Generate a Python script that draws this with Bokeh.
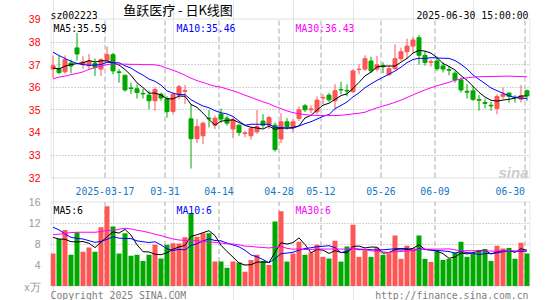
import numpy as np
import pandas as pd
from bokeh.plotting import figure
from bokeh.models import Range1d, FixedTicker, Label, ColumnDataSource, BoxAnnotation
from bokeh.core.properties import value
from bokeh.layouts import column
from bokeh.embed import file_html
from bokeh.resources import INLINE

# ---------------- data ----------------
dates = (
    ["2025-03-%02d" % d for d in [4, 5, 6, 7, 10, 11, 12, 13, 14, 17, 18, 19, 20, 21, 24, 25, 26, 27, 28, 31]]
    + ["2025-04-%02d" % d for d in [1, 2, 3, 7, 8, 9, 10, 11, 14, 15, 16, 17, 18, 21, 22, 23, 24, 25, 28, 29, 30]]
    + ["2025-05-%02d" % d for d in [6, 7, 8, 9, 12, 13, 14, 15, 16, 19, 20, 21, 22, 23, 26, 27, 28, 29, 30]]
    + ["2025-06-%02d" % d for d in [3, 4, 5, 6, 9, 10, 11, 12, 13, 16, 17, 18, 19, 20, 23, 24, 25, 26, 27, 30]]
)

opens = [36.80, 36.82, 36.68, 37.07, 37.74, 37.00, 36.95, 37.05, 36.80, 37.18,
         37.44, 36.68, 36.53, 35.97, 35.93, 35.73, 35.65, 35.40, 35.69, 35.50,
         34.93, 35.65, 35.82, 34.60, 33.72, 33.85, 34.63, 34.32, 34.81, 34.63,
         34.15, 34.32, 33.95, 33.85, 34.03, 34.50, 34.32, 34.32, 33.71, 34.47,
         34.26, 34.62, 35.18, 35.00, 34.91, 35.52, 35.65, 35.40, 35.90, 35.86,
         35.80, 36.78, 36.80, 37.16, 36.80, 36.95, 36.57, 36.82, 37.26, 37.57,
         37.82, 38.19, 37.41, 37.10, 37.16, 36.94, 36.78, 36.62, 36.32, 35.82,
         35.84, 35.46, 35.32, 35.20, 35.06, 35.60, 35.74, 35.56, 35.47, 35.84]
closes = [36.95, 36.65, 37.22, 36.94, 37.47, 37.12, 37.15, 36.88, 37.22, 37.44,
          36.72, 36.65, 35.88, 35.94, 35.76, 35.70, 35.40, 35.90, 35.52, 34.92,
          35.68, 36.02, 35.85, 33.72, 34.26, 34.41, 34.60, 34.63, 34.59, 34.41,
          34.56, 34.00, 33.98, 34.18, 34.26, 34.32, 34.66, 33.24, 34.47, 34.26,
          34.47, 35.00, 35.00, 35.04, 35.43, 35.55, 35.44, 35.84, 35.88, 35.83,
          36.72, 36.80, 37.26, 36.72, 36.99, 36.90, 36.82, 37.26, 37.57, 37.82,
          38.09, 37.41, 37.09, 37.13, 36.82, 36.80, 36.75, 36.32, 35.88, 35.78,
          35.46, 35.42, 35.28, 35.17, 35.59, 35.69, 35.60, 35.54, 35.62, 35.62]
highs = [37.40, 37.38, 37.41, 37.22, 38.40, 37.37, 37.47, 37.27, 37.27, 37.80,
         37.52, 36.80, 36.55, 36.20, 36.12, 35.93, 35.85, 36.00, 35.76, 35.60,
         35.76, 36.10, 36.10, 35.25, 34.59, 34.47, 35.00, 34.74, 35.06, 34.74,
         34.66, 34.35, 34.07, 34.26, 35.00, 34.81, 34.74, 34.44, 34.85, 34.63,
         34.60, 35.15, 35.25, 35.20, 35.59, 35.69, 35.74, 36.13, 36.24, 36.13,
         36.80, 37.01, 37.41, 37.35, 37.38, 37.10, 36.95, 37.90, 37.75, 38.15,
         38.24, 38.31, 37.60, 37.24, 37.35, 37.10, 36.94, 36.72, 36.43, 36.13,
         36.06, 35.65, 35.50, 35.35, 35.69, 35.99, 35.76, 35.65, 36.09, 35.90]
lows = [36.40, 36.57, 36.60, 36.62, 37.18, 36.80, 36.78, 36.50, 36.50, 37.15,
        36.57, 36.20, 35.80, 35.70, 35.50, 35.50, 35.03, 34.96, 35.40, 34.65,
        34.80, 35.47, 35.25, 32.40, 33.53, 33.48, 34.22, 34.15, 34.41, 34.30,
        33.75, 33.85, 33.78, 33.68, 33.93, 34.18, 34.15, 33.15, 33.53, 34.12,
        34.00, 34.51, 34.90, 34.85, 34.81, 35.25, 35.35, 35.06, 35.69, 35.59,
        35.75, 36.57, 36.72, 36.65, 36.70, 36.62, 36.50, 36.78, 37.16, 37.25,
        37.53, 37.00, 36.95, 36.91, 36.72, 36.65, 36.53, 36.20, 35.76, 35.50,
        35.40, 34.96, 35.06, 34.96, 34.80, 35.47, 35.32, 35.32, 35.32, 35.40]
volumes = [6.19, 8.95, 10.69, 5.94, 10.24, 6.51, 7.35, 6.51, 11.20, 15.18,
           11.33, 6.19, 10.04, 5.74, 5.94, 4.78, 5.94, 7.86, 5.23, 7.86,
           8.12, 8.10, 9.30, 13.90, 9.40, 10.04, 10.04, 4.65, 4.65, 3.50,
           4.65, 4.46, 2.73, 4.97, 5.94, 4.78, 4.01, 12.29, 14.22, 4.65,
           6.19, 8.44, 5.94, 6.39, 7.86, 5.55, 5.23, 8.63, 4.65, 7.54,
           11.65, 5.55, 6.84, 5.55, 7.35, 5.94, 6.26, 9.60, 5.17, 7.67,
           7.22, 9.60, 5.17, 4.59, 6.51, 4.97, 5.17, 6.39, 8.44, 5.55,
           6.19, 6.84, 7.03, 4.78, 7.67, 7.16, 7.22, 5.17, 8.25, 6.19]

# moving-average values before a full window is available
ma5_head = [36.85, 36.81, 36.93, 37.00]
ma10_head = [37.55, 37.40, 37.27, 37.15, 37.05, 37.00, 36.97, 36.98, 37.00]
ma30_head = [36.37, 36.45, 36.49, 36.56, 36.61, 36.68, 36.79, 36.86, 36.93, 37.00,
             37.03, 37.02, 37.02, 37.01, 37.01, 37.00, 37.00, 36.99, 36.94, 36.84,
             36.75, 36.65, 36.53, 36.40, 36.29, 36.21, 36.12, 36.04, 36.00]
vma5_head = [9.27, 8.95, 8.90, 8.44]
vma10_head = [11.20, 10.70, 9.90, 9.27, 9.08, 8.95, 8.63, 8.31, 8.50]
vma30_head = [9.79, 9.85, 10.04, 10.17, 10.24, 10.24, 10.24, 10.24, 10.37, 10.56,
              10.56, 10.82, 11.00, 10.88, 10.62, 10.43, 10.17, 9.85, 9.60, 9.27,
              8.95, 8.76, 8.70, 8.65, 8.60, 8.50, 8.40, 8.30, 8.20]

tick_dates = ["2025-03-17", "2025-03-31", "2025-04-14", "2025-04-28",
              "2025-05-12", "2025-05-26", "2025-06-09", "2025-06-30"]
tick_labels = ["2025-03-17", "03-31", "04-14", "04-28", "05-12", "05-26", "06-09", "06-30"]
price_ticks = [32, 33, 34, 35, 36, 37, 38, 39]
vol_ticks = [4, 8, 12, 16]

title_code = "sz002223"
title_name = "鱼跃医疗 - 日K线图"
title_time = "2025-06-30 15:00:00"
price_legend = ["MA5:35.59", "MA10:35.46", "MA30:36.43"]
vol_legend = ["MA5:6", "MA10:6", "MA30:6"]
vol_unit = "x万"
footer_left = "Copyright 2025 SINA.COM"
footer_right = "http://finance.sina.com.cn"

# ---------------- styling / layout (page pixels) ----------------
RED = "#ff5555"
GREEN = "#00a800"
MA_COLORS = ["#000000", "#0000ff", "#ff00ff"]
MONO = "DejaVu Sans Mono"
MONO_SIZE = "9.8px"
GRID_COLOR = "#aaaaaa"
FRAME_COLOR = "#999999"
XLAB_COLOR = "#1478c8"

PAGE_W, P1_H, P2_H = 545, 196, 104
FRAME_L, FRAME_R = 50, 530
X0 = -2.5 / 6                       # bar i centred at page px 52.5 + 6 i


def xd(px):                          # page px (x) -> bar index units
    return X0 + (px - FRAME_L) / 6


def py(px):                          # page px (y) -> price
    return 38 + (41.5 - px) / 22.6


def vy(px):                          # page px (y, page) -> volume
    return (285.5 - px) / 5.25


def moving(vals, n, head):
    s = pd.Series(vals).rolling(n).mean().tolist()
    return list(head) + s[n - 1:]


n = len(dates)
x = np.arange(n)
o = np.array(opens); c = np.array(closes)
colors = [RED if cc >= oo else GREEN for oo, cc in zip(opens, closes)]
src = ColumnDataSource(dict(
    x=x, open=o, close=c, high=highs, low=lows,
    top=np.maximum(o, c), bottom=np.minimum(o, c), color=colors,
    vol=volumes,
    ma5=moving(closes, 5, ma5_head), ma10=moving(closes, 10, ma10_head),
    ma30=moving(closes, 30, ma30_head),
    vma5=moving(volumes, 5, vma5_head), vma10=moving(volumes, 10, vma10_head),
    vma30=moving(volumes, 30, vma30_head),
))

grid_x = [dates.index(d) - 1 / 3 for d in tick_dates]
x_range = Range1d(xd(FRAME_L), xd(FRAME_R))


def lab(p, text, x, y, color, size=MONO_SIZE, font=MONO, align="left",
        baseline="alphabetic", style="normal"):
    p.add_layout(Label(x=x, y=y, x_units="screen", y_units="screen", text=text,
                       text_color=color, text_font=font, text_font_size=size,
                       text_align=align, text_baseline=baseline,
                       text_font_style=style))


def txt(p, xs, ys, texts, color, size=MONO_SIZE, font=MONO, align="left",
        baseline="alphabetic"):
    p.text(x=xs, y=ys, text=texts, text_color=color, text_font=value(font),
           text_font_size=value(size), text_align=align, text_baseline=baseline)


def style_yaxis(p, ticks, color):
    p.yaxis.ticker = FixedTicker(ticks=ticks)
    p.yaxis.major_label_text_color = color
    p.yaxis.major_label_text_font = "Liberation Sans"
    p.yaxis.major_label_text_font_size = "10.5px"
    p.yaxis.major_label_standoff = 4
    p.yaxis.axis_line_color = None
    p.yaxis.major_tick_line_color = None
    p.yaxis.minor_tick_line_color = None


def make_fig(height, y_range):
    p = figure(width=PAGE_W, height=height, x_range=x_range, y_range=y_range,
               output_backend="svg", toolbar_location=None, title=None,
               x_axis_location=None,
               min_border_left=FRAME_L, min_border_right=PAGE_W - FRAME_R,
               min_border_top=0, min_border_bottom=0)
    p.outline_line_color = None
    return p


# ---------------- price figure (page y 0..196) ----------------
p1 = make_fig(P1_H, Range1d(py(P1_H), py(0)))
style_yaxis(p1, price_ticks, "#ff0000")
p1.ygrid.ticker = FixedTicker(ticks=price_ticks[1:-1])
p1.ygrid.grid_line_color = GRID_COLOR
p1.ygrid.grid_line_dash = "1 2"
p1.segment(x0=grid_x, y0=price_ticks[0], x1=grid_x, y1=price_ticks[-1],
           line_color=GRID_COLOR, line_dash="5 3", line_width=1)

p1.segment(x0="x", y0="low", x1="x", y1="high", color="color", line_width=1, source=src)
p1.vbar(x="x", top="top", bottom="bottom", width=4 / 6, fill_color="color",
        line_color="color", line_width=1, source=src)
for key, col in zip(["ma5", "ma10", "ma30"], MA_COLORS):
    p1.line(x="x", y=key, color=col, line_width=1, source=src)

p1.add_layout(BoxAnnotation(left=xd(50.5), right=xd(529.5), top=py(18.5), bottom=py(177.5),
                            fill_color=None, line_color=FRAME_COLOR, line_width=1))

# header
txt(p1, [xd(50)], [py(15)], [title_code], "#000000")
txt(p1, [xd(177.5)], [py(9.3)], [title_name], "#000000", size="13px",
    font="Noto Sans CJK SC", align="center", baseline="middle")
txt(p1, [xd(528)], [py(15)], [title_time], "#000000", align="right")
# date labels under the price box
txt(p1, grid_x[:-1], [py(190.3)] * (len(grid_x) - 1), tick_labels[:-1], XLAB_COLOR,
    align="center")
txt(p1, grid_x[-1:], [py(190.3)], tick_labels[-1:], XLAB_COLOR, align="right")

for t, xx, col in zip(price_legend, [3, 126, 245], MA_COLORS):
    lab(p1, t, xx, P1_H - 27.5, col)
lab(p1, "sina", 478, P1_H - 172, "#cccccc", size="15px", font="Liberation Sans",
    align="right", style="bold italic")

# ---------------- volume figure (page y 196..300) ----------------
UNIT_TICK = vy(286)
p2 = make_fig(P2_H, Range1d(vy(P1_H + P2_H), vy(P1_H)))
style_yaxis(p2, vol_ticks + [UNIT_TICK], "#999999")
p2.yaxis.major_label_overrides = {UNIT_TICK: vol_unit}
p2.ygrid.ticker = FixedTicker(ticks=vol_ticks[:-1])
p2.ygrid.grid_line_color = GRID_COLOR
p2.ygrid.grid_line_dash = "1 2"
p2.segment(x0=grid_x, y0=0, x1=grid_x, y1=vol_ticks[-1],
           line_color=GRID_COLOR, line_dash="5 3", line_width=1)

p2.vbar(x="x", top="vol", bottom=0, width=5 / 6, fill_color="color",
        line_color=None, source=src)
for key, col in zip(["vma5", "vma10", "vma30"], MA_COLORS):
    p2.line(x="x", y=key, color=col, line_width=1, source=src)

p2.add_layout(BoxAnnotation(left=xd(50.5), right=xd(529.5), top=vy(201.5),
                            bottom=vy(285.5), fill_color=None,
                            line_color=FRAME_COLOR, line_width=1))

for t, xx, col in zip(vol_legend, [3, 126, 245], MA_COLORS):
    lab(p2, t, xx, P1_H + P2_H - 210, col)
txt(p2, [xd(50)], [vy(294.5)], [footer_left], "#808080")
txt(p2, [xd(528)], [vy(294.5)], [footer_right], "#808080", align="right")

layout = column(p1, p2, spacing=0)
open("out.html", "w").write(file_html(layout, INLINE))
